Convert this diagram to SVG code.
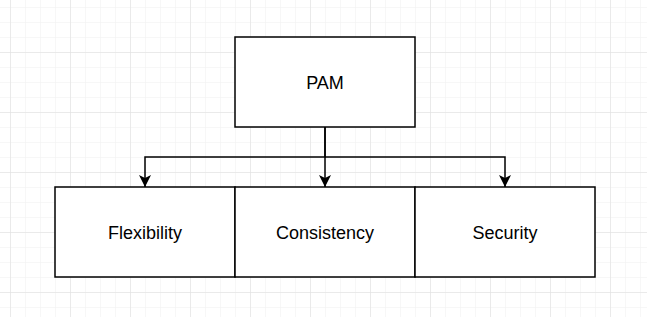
<svg xmlns="http://www.w3.org/2000/svg" width="647" height="317" viewBox="0 0 647 317">
<defs>
<pattern id="minor" x="10" y="7" width="15" height="15" patternUnits="userSpaceOnUse">
<path d="M0 0H15M0 0V15" fill="none" stroke="#f0f0f0" stroke-width="1"/>
</pattern>
<pattern id="major" x="10" y="-8" width="60" height="60" patternUnits="userSpaceOnUse">
<path d="M0 0H60M0 0V60" fill="none" stroke="#dedede" stroke-width="1"/>
</pattern>
<marker id="arr" viewBox="0 0 12 12" refX="12" refY="6" markerWidth="12" markerHeight="12" markerUnits="userSpaceOnUse" orient="auto">
<path d="M0 0L12 6L0 12L3 6Z" fill="#000"/>
</marker>
</defs>
<style>
.box{fill:#fff;stroke:#000;stroke-width:1.5}
.lbl{font-family:"Liberation Sans",Arial,sans-serif;font-size:18px;fill:#000;text-anchor:middle}
.edge{fill:none;stroke:#000;stroke-width:1.5}
</style>
<rect width="647" height="317" fill="#fff"/>
<rect width="647" height="317" fill="url(#minor)"/>
<rect width="647" height="317" fill="url(#major)"/>
<g id="connectors">
<path class="edge" d="M325 127V157H145V187" marker-end="url(#arr)"/>
<path class="edge" d="M325 127V187" marker-end="url(#arr)"/>
<path class="edge" d="M325 157H505V187" marker-end="url(#arr)"/>
</g>
<g id="pam">
<rect class="box" x="235" y="37" width="180" height="90"/>
<text class="lbl" x="325" y="89">PAM</text>
</g>
<g id="flexibility">
<rect class="box" x="55" y="187" width="180" height="90"/>
<text class="lbl" x="145" y="239">Flexibility</text>
</g>
<g id="consistency">
<rect class="box" x="235" y="187" width="180" height="90"/>
<text class="lbl" x="325" y="239">Consistency</text>
</g>
<g id="security">
<rect class="box" x="415" y="187" width="180" height="90"/>
<text class="lbl" x="505" y="239">Security</text>
</g>
</svg>
